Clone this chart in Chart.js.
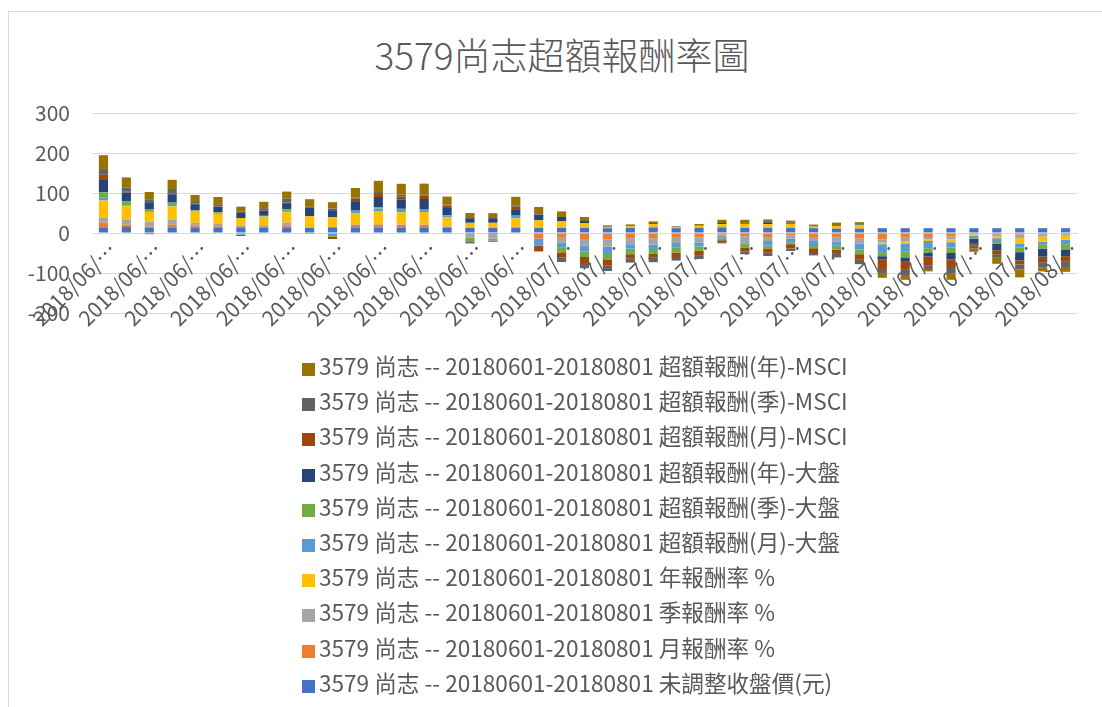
<!DOCTYPE html>
<html>
<head>
<meta charset="utf-8">
<script src="https://cdn.jsdelivr.net/npm/chart.js@4.4.1/dist/chart.umd.min.js"></script>
<style>
  html, body { margin: 0; padding: 0; background: #fff; }
  #wrap { position: relative; width: 1102px; height: 707px; overflow: hidden;
          font-family: "Noto Sans CJK TC", "Noto Sans", sans-serif; color: #595959; }
  #frame { position: absolute; left: 8px; top: 11px; right: -10px; bottom: -10px;
           border-left: 1px solid #d9d9d9; border-top: 1px solid #d9d9d9; }
  #title { position: absolute; top: 29px; left: 0; width: 1124px; text-align: center;
           font-size: 37px; font-weight: 300; line-height: 50px; }
  #box { position: absolute; left: 0; top: 0; width: 1102px; height: 350px; }
  #legend { position: absolute; left: 302px; top: 348px; font-size: 22.6px; line-height: 35.2px; }
  #legend div { white-space: nowrap; }
  #legend span.sw { display: inline-block; width: 13px; height: 13px; margin-right: 4px; vertical-align: -1px; }
</style>
</head>
<body>
<div id="wrap">
  <div id="frame"></div>
  <div id="title">3579尚志超額報酬率圖</div>
  <div id="box"><canvas id="c"></canvas></div>
  <div id="legend"></div>
</div>
<script>
// 交易日 (2018/06/01 ~ 2018/08/01)
const dates = [
  "2018/06/01","2018/06/04","2018/06/05","2018/06/06","2018/06/07","2018/06/08",
  "2018/06/11","2018/06/12","2018/06/13","2018/06/14","2018/06/15",
  "2018/06/19","2018/06/20","2018/06/21","2018/06/22",
  "2018/06/25","2018/06/26","2018/06/27","2018/06/28","2018/06/29",
  "2018/07/02","2018/07/03","2018/07/04","2018/07/05","2018/07/06",
  "2018/07/09","2018/07/10","2018/07/11","2018/07/12","2018/07/13",
  "2018/07/16","2018/07/17","2018/07/18","2018/07/19","2018/07/20",
  "2018/07/23","2018/07/24","2018/07/25","2018/07/26","2018/07/27",
  "2018/07/30","2018/07/31","2018/08/01"
];

const prefix = "3579 尚志 -- 20180601-20180801 ";

// 그림에서 읽은 값
const closePrice = [14,15,14,14,14,14,14,14,14,13,14,14,14,14,14,13,13,13,13,13,13,13,12,13,14,12,13,14,13,13,13,12,11,11,12,12,12,12,12,12,12,12,12];
const monthRet   = [12.5,6,2.5,7,4,3,1,1.5,4,0.5,0.5,7,7,6.5,6.5,2.5,-1,-0.5,1.5,-14,-12,-15,-16,-13,-13,-12,-11,-4,-8,-10,-6,-12,-11,-14,-16,-12,-10,-9,-1,-3,-4,-3,-3];
const quarterRet = [12,13,12,13,7.5,6.5,2.5,4,8,1,0.5,1,2,1,1,1,-11,-13,0.5,0.5,-12.5,-16,-18,-15,-16,-13,-12.5,-6,-15,-10,-8,-6,-10,-12,-8,-8,-6,-7,-2,-5,-9,-6,-4];
const yearRet    = [43,33,24,32,28,24,20,21,26,27.5,25,27.5,32,30,31,23,12.5,12.5,21.5,18,16,11,3,4,8,3,5,8,10,9,10,4,7,8,-4,-6,-4,-7,-4,-5,-13,-13,-10];
const exMonthTw  = [8,2,0.5,1,2,1.5,-4,1,1,-1.5,-5,6,6,6,7.5,5,-0.5,-0.5,6.5,-18,-11,-15,-16,-11,-11,-12,-10,-4,-3,-11,-9,-12,-11,-15,-20,-21,-18,-13,-3,-7,-10,-6,-11];
const exQuarterTw= [12,10,7,9,1.5,3,-1,1.5,6.5,-0.5,-4,0.5,3,3,-2,-2,-8,-4.5,0.5,0.5,-13,-14,-16,-14,-12,-12,-11,-4,-10,-7.5,-5,-8,-10,-12,-10,-14,-11,-14,-4,-7,-12,-11,-13];
const exYearTw   = [33,22,17,21,15,13,12.5,12.5,15,21,17,21.5,26,22.5,25,18,11.5,11.5,16,14,11,6,0.5,0.5,2.5,0.5,0.5,3,2,5,3,0.5,2,2,-8,-11,-10,-16,-13,-16,-21,-20,-17];
const exMonthMs  = [11,2,-3,1,1.5,1,-2.5,1.5,1.5,-0.5,-6,8,7.5,7.5,8,6,-0.5,-0.5,6,-14,-13,-15,-16,-10,-10,-11,-12.5,-5,-10,-11,-11,-12,-10,-14,-24,-20,-23,-19,-5,-10,-10,-14,-14];
const exQuarterMs= [12,11,7.5,12,4,6,3,5,10,2.5,4,3,5,5,2.5,2.5,-5,-3,2.5,1,-11,-13,-13,-11,-11,-9,-8,-3,-7,-8,-6,-6,-9,-11,-12,-13,-8,-16,-6,-9,-12,-13,-13];
const exYearMs   = [37,25,18,23,17.5,18,13,16,17.5,19,16,24,28,27.5,28,20,13,12.5,22.5,18,14,10,3.5,4,4.5,1.5,4,8,8,7,5,4.5,6,6,-10,-12,-6,-16,-9,-15,-20,-10,-12];

const seriesNames = [
  "未調整收盤價(元)", "月報酬率 %", "季報酬率 %", "年報酬率 %",
  "超額報酬(月)-大盤", "超額報酬(季)-大盤", "超額報酬(年)-大盤",
  "超額報酬(月)-MSCI", "超額報酬(季)-MSCI", "超額報酬(年)-MSCI"
];
const seriesData = [closePrice, monthRet, quarterRet, yearRet, exMonthTw, exQuarterTw, exYearTw, exMonthMs, exQuarterMs, exYearMs];
const seriesColors = ["#4472C4","#ED7D31","#A5A5A5","#FFC000","#5B9BD5","#70AD47","#264478","#9E480E","#636363","#997300"];

const FONT = '"Noto Sans CJK TC", "Noto Sans", sans-serif';

const datasets = seriesNames.map((n, i) => ({
  label: prefix + n,
  data: seriesData[i],
  backgroundColor: seriesColors[i],
  borderWidth: 0,
  barPercentage: 0.4,
  categoryPercentage: 1.0
}));

new Chart(document.getElementById("c"), {
  type: "bar",
  data: { labels: dates, datasets },
  options: {
    responsive: true,
    maintainAspectRatio: false,
    animation: false,
    layout: { padding: { left: 0, right: 25, top: 113, bottom: 37 } },
    plugins: { legend: { display: false }, title: { display: false }, tooltip: { enabled: false } },
    scales: {
      x: {
        stacked: true,
        position: { y: 0 },
        grid: { display: false, drawTicks: false },
        border: { display: true, color: "#d9d9d9", width: 1 },
        ticks: {
          autoSkip: false, minRotation: 45, maxRotation: 45, padding: 4, labelOffset: 9,
          color: "#595959", font: { family: FONT, size: 21 },
          callback: function (v, i) {
            return i % 2 === 0 ? this.getLabelForValue(v).slice(0, 8) + "…" : null;
          }
        }
      },
      y: {
        stacked: true,
        min: -200, max: 300,
        grid: { color: "#d9d9d9", lineWidth: 1, drawTicks: false },
        border: { display: false },
        ticks: { stepSize: 100, padding: 22, color: "#595959", font: { family: FONT, size: 21 } },
        afterFit: (s) => { s.width = 92; s.paddingTop = 0; s.paddingBottom = 0; }
      }
    }
  }
});

// 범례 (역순)
const lg = document.getElementById("legend");
for (let i = seriesNames.length - 1; i >= 0; i--) {
  const row = document.createElement("div");
  row.innerHTML = `<span class="sw" style="background:${seriesColors[i]}"></span>${prefix}${seriesNames[i]}`;
  lg.appendChild(row);
}
</script>
</body>
</html>
